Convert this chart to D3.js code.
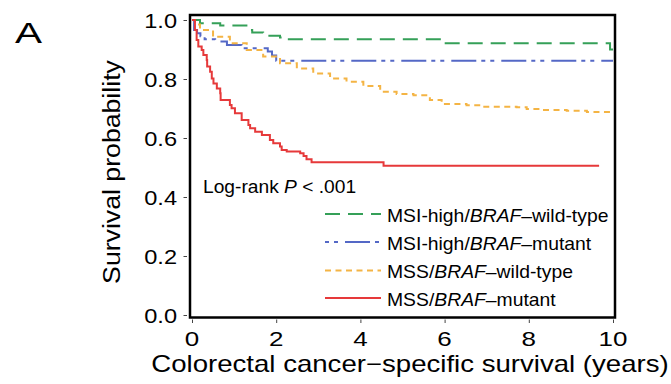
<!DOCTYPE html>
<html><head><meta charset="utf-8">
<script src="https://cdn.jsdelivr.net/npm/d3@7"></script>
<style>
body{margin:0;background:#fff}
svg{display:block}
text{font-family:"Liberation Sans",Arial,sans-serif;fill:#000}
</style>
</head><body><svg id="c" width="671" height="384"></svg>
<script>
// ---- data ----
const xTicks = [0, 2, 4, 6, 8, 10];
const xTickLabels = ["0", "2", "4", "6", "8", "10"];
const yTicks = [0, 0.2, 0.4, 0.6, 0.8, 1.0];
const yTickLabels = ["0.0", "0.2", "0.4", "0.6", "0.8", "1.0"];

// MSI-high/BRAF–wild-type
const timeMsiWt = [0, 0.19, 0.67, 1.33, 1.43, 1.69, 1.81, 2.09, 2.21, 5.93, 9.93, 10.0];
const survMsiWt = [1.0, 0.989, 0.981, 0.966, 0.958, 0.951, 0.947, 0.941, 0.935, 0.921, 0.90, 0.90];
// MSI-high/BRAF–mutant
const timeMsiMut = [0, 0.05, 0.12, 0.2, 0.3, 0.55, 0.83, 1.18, 1.8, 1.9, 2.0, 10.0];
const survMsiMut = [1.0, 0.966, 0.955, 0.945, 0.935, 0.927, 0.915, 0.904, 0.893, 0.88, 0.862, 0.862];
// MSS/BRAF–wild-type
const timeMssWt = [0, 0.07, 0.19, 0.5, 0.9, 1.3, 1.69, 2.09, 2.49, 2.88, 3.28, 3.67, 4.07, 4.47, 4.86, 5.26, 5.65, 5.93, 6.52, 6.91, 7.71, 7.95, 8.27, 8.9, 9.38, 9.93];
const survMssWt = [1.0, 0.985, 0.966, 0.943, 0.921, 0.898, 0.876, 0.853, 0.836, 0.819, 0.802, 0.791, 0.776, 0.757, 0.749, 0.745, 0.729, 0.715, 0.711, 0.706, 0.704, 0.698, 0.695, 0.692, 0.688, 0.687];
// MSS/BRAF–mutant
const timeMssMut = [0, 0.07, 0.11, 0.15, 0.23, 0.27, 0.35, 0.36, 0.43, 0.47, 0.51, 0.59, 0.67, 0.68, 0.9, 0.94, 1.02, 1.18, 1.34, 1.38, 1.5, 1.66, 1.85, 1.93, 2.09, 2.13, 2.25, 2.57, 2.65, 2.72, 2.84, 4.55, 9.67];
const survMssMut = [1.0, 0.966, 0.932, 0.91, 0.898, 0.881, 0.864, 0.842, 0.825, 0.802, 0.785, 0.768, 0.752, 0.729, 0.712, 0.701, 0.684, 0.661, 0.644, 0.633, 0.621, 0.61, 0.593, 0.582, 0.571, 0.559, 0.554, 0.548, 0.539, 0.528, 0.518, 0.506, 0.506];

const seriesNames = ["MSI-high/BRAF–wild-type", "MSI-high/BRAF–mutant", "MSS/BRAF–wild-type", "MSS/BRAF–mutant"];
const legendPrefix = ["MSI-high/", "MSI-high/", "MSS/", "MSS/"];
const legendSuffix = ["–wild-type", "–mutant", "–wild-type", "–mutant"];
const seriesColors = ["#35a058", "#5468c6", "#f4b444", "#e6393a"];
const seriesDash = ["15,8", "25,5,4,5,4,7", "6,4.5", null];

// ---- drawing ----
const svg = d3.select("#c");
const x = d3.scaleLinear().domain([0, 10]).range([192, 613]);
const y = d3.scaleLinear().domain([0, 1]).range([315, 20]);

const series = [
  timeMsiWt.map((t, i) => [t, survMsiWt[i]]),
  timeMsiMut.map((t, i) => [t, survMsiMut[i]]),
  timeMssWt.map((t, i) => [t, survMssWt[i]]),
  timeMssMut.map((t, i) => [t, survMssMut[i]])
];

function stext(parent, tx, ty, sx, size, anchor, rot) {
  const g = parent.append("g")
    .attr("transform", `translate(${tx},${ty})` + (rot ? ` rotate(${rot})` : "") + ` scale(${sx},1)`);
  return g.append("text").attr("font-size", size).attr("text-anchor", anchor || "start");
}

// ticks (detached from box)
const xAxis = svg.append("g").attr("transform", "translate(0,319.5)")
  .call(d3.axisBottom(x).tickValues(xTicks).tickSize(3.5).tickFormat(""));
const yAxis = svg.append("g").attr("transform", "translate(187,0)")
  .call(d3.axisLeft(y).tickValues(yTicks).tickSize(3.5).tickFormat(""));
[xAxis, yAxis].forEach(a => {
  a.select(".domain").remove();
  a.selectAll(".tick line").attr("stroke", "#444").attr("stroke-width", 1);
});

xTicks.forEach((t, i) => {
  stext(svg, x(t), 346, 1.3, 20, "middle").text(xTickLabels[i]);
});
yTicks.forEach((t, i) => {
  stext(svg, 177, y(t) + 7.5, 1.18, 20, "end").text(yTickLabels[i]);
});

// curves
const line = d3.line().x(d => x(d[0])).y(d => y(d[1])).curve(d3.curveStepAfter);
series.forEach((s, i) => {
  svg.append("path").datum(s)
    .attr("d", line)
    .attr("fill", "none")
    .attr("stroke", seriesColors[i])
    .attr("stroke-width", 2)
    .attr("stroke-dasharray", seriesDash[i]);
});

// frame
svg.append("rect").attr("x", 190).attr("y", 15).attr("width", 425).attr("height", 302.5)
  .attr("fill", "none").attr("stroke", "#000").attr("stroke-width", 2.5);

// annotation
const lr = stext(svg, 203, 192.5, 1.085, 17.7, "start");
lr.append("tspan").text("Log-rank ");
lr.append("tspan").attr("font-style", "italic").text("P");
lr.append("tspan").text(" < .001");

// legend
const legendY = [214, 242, 270.5, 298];
seriesNames.forEach((n, i) => {
  svg.append("line").attr("x1", 325).attr("x2", 381).attr("y1", legendY[i]).attr("y2", legendY[i])
    .attr("stroke", seriesColors[i]).attr("stroke-width", 2)
    .attr("stroke-dasharray", seriesDash[i])
    .attr("stroke-dashoffset", i === 1 ? 30 : 0);
  const t = stext(svg, 387, legendY[i] + 7.5, 1.04, 18.6, "start");
  t.append("tspan").text(legendPrefix[i]);
  t.append("tspan").attr("font-style", "italic").text("BRAF");
  t.append("tspan").text(legendSuffix[i]);
});

// axis titles
stext(svg, 410, 371.5, 1.2, 23, "middle").text("Colorectal cancer−specific survival (years)");
stext(svg, 120, 172, 1.16, 23, "middle", -90).text("Survival probability");

// panel letter
stext(svg, 15, 43, 1.35, 30, "start").text("A");
</script></body></html>
